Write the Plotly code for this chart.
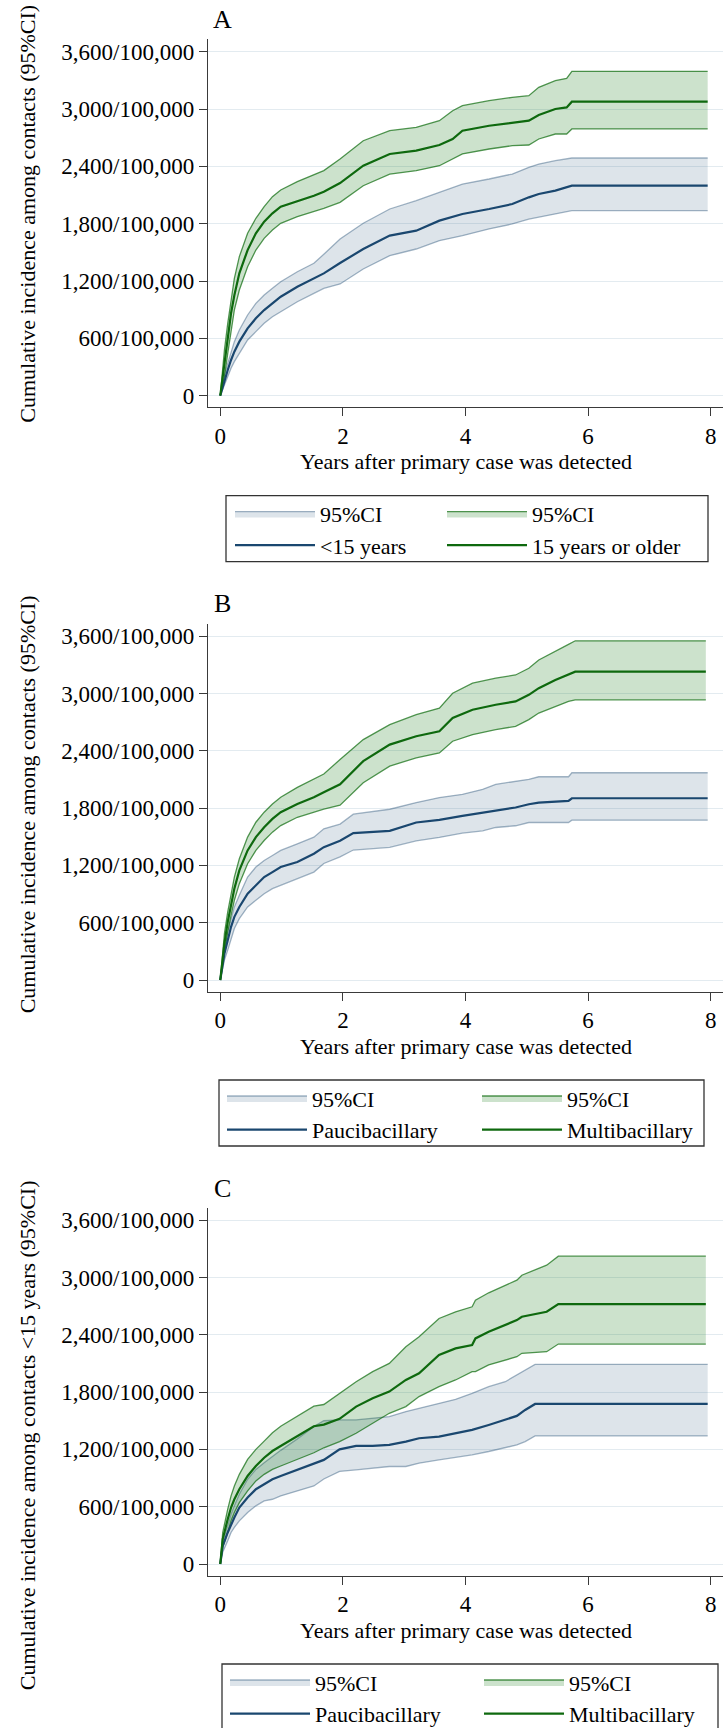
import plotly.graph_objects as go

# ---------------- data ----------------
# Panel A : <15 years (blue) vs 15 years or older (green)
a_blue_t = [0, 0.068, 0.122, 0.176, 0.23, 0.311, 0.446, 0.581, 0.716, 0.851, 0.986, 1.257, 1.527, 1.689,
            1.954, 2.332, 2.764, 3.196, 3.574, 3.95, 4.385, 4.763, 5.033, 5.195, 5.465, 5.735, 7.95]
a_blue = [0, 164, 268, 373, 460, 565, 704, 809, 896, 966, 1035, 1140, 1228, 1280,
          1388, 1535, 1675, 1727, 1832, 1902, 1954, 2006, 2076, 2111, 2146, 2198, 2198]
a_blue_hi = [0, 216, 338, 460, 565, 687, 844, 966, 1053, 1123, 1193, 1297, 1385, 1480,
             1640, 1805, 1954, 2041, 2128, 2215, 2268, 2320, 2390, 2425, 2460, 2488, 2488]
a_blue_lo = [0, 112, 199, 286, 356, 443, 582, 670, 757, 826, 879, 983, 1071, 1123,
             1169, 1326, 1465, 1535, 1622, 1675, 1745, 1797, 1849, 1867, 1902, 1937, 1937]

a_green_t = [0, 0.068, 0.122, 0.176, 0.23, 0.311, 0.446, 0.581, 0.716, 0.851, 0.986, 1.257, 1.527, 1.689,
             1.954, 2.332, 2.764, 3.196, 3.574, 3.79, 3.95, 4.385, 4.763, 5.033, 5.195, 5.465, 5.65, 5.735, 7.95]
a_green = [0, 338, 617, 862, 1050, 1280, 1524, 1700, 1822, 1909, 1978, 2035, 2093, 2135,
           2226, 2407, 2530, 2565, 2624, 2687, 2774, 2826, 2861, 2879, 2938, 3001, 3018, 3078, 3078]
a_green_hi = [0, 477, 757, 1001, 1228, 1455, 1700, 1857, 1978, 2083, 2153, 2241, 2310, 2356,
              2477, 2669, 2774, 2809, 2879, 2983, 3036, 3088, 3123, 3141, 3228, 3298, 3322, 3395, 3395]
a_green_lo = [0, 198, 443, 670, 897, 1106, 1350, 1524, 1647, 1734, 1804, 1874, 1926, 1961,
              2024, 2198, 2320, 2355, 2407, 2477, 2530, 2582, 2617, 2624, 2687, 2739, 2739, 2792, 2792]

# Panel B : Paucibacillary (blue) vs Multibacillary (green)
b_blue_t = [0, 0.068, 0.122, 0.176, 0.23, 0.311, 0.446, 0.581, 0.716, 0.851, 0.986, 1.257, 1.527, 1.689,
            1.954, 2.17, 2.764, 3.196, 3.574, 3.95, 4.28, 4.493, 4.817, 5.033, 5.195, 5.68, 5.735, 7.95]
b_blue = [0, 278, 417, 557, 661, 765, 904, 991, 1078, 1130, 1183, 1235, 1322, 1391,
          1458, 1538, 1562, 1649, 1677, 1719, 1753, 1778, 1806, 1840, 1858, 1875, 1903, 1903]
b_blue_hi = [0, 348, 504, 643, 765, 887, 1078, 1183, 1252, 1304, 1357, 1426, 1496, 1583,
             1632, 1736, 1788, 1858, 1910, 1944, 1997, 2049, 2083, 2101, 2128, 2128, 2170, 2170]
b_blue_lo = [0, 209, 313, 435, 539, 643, 765, 835, 904, 957, 991, 1061, 1130, 1220,
             1290, 1361, 1389, 1458, 1493, 1538, 1562, 1597, 1615, 1649, 1649, 1649, 1674, 1674]

b_green_t = [0, 0.068, 0.122, 0.176, 0.23, 0.311, 0.446, 0.581, 0.716, 0.851, 0.986, 1.257, 1.527, 1.689,
             1.954, 2.332, 2.764, 3.196, 3.574, 3.79, 4.115, 4.493, 4.817, 5.033, 5.195, 5.465, 5.68, 5.79, 7.92]
b_green = [0, 383, 609, 800, 957, 1148, 1357, 1496, 1600, 1687, 1757, 1843, 1913, 1965,
           2049, 2292, 2465, 2552, 2604, 2743, 2830, 2882, 2917, 2986, 3056, 3142, 3194, 3229, 3229]
b_green_hi = [0, 487, 713, 904, 1078, 1270, 1496, 1652, 1757, 1843, 1913, 2017, 2104, 2157,
              2309, 2517, 2674, 2778, 2847, 3003, 3108, 3160, 3194, 3264, 3351, 3438, 3514, 3552, 3552]
b_green_lo = [0, 296, 504, 678, 835, 1009, 1217, 1357, 1461, 1548, 1617, 1704, 1760, 1790,
              1830, 2066, 2240, 2326, 2378, 2500, 2569, 2622, 2656, 2726, 2795, 2865, 2917, 2934, 2934]

# Panel C : contacts <15 years, Paucibacillary (blue) vs Multibacillary (green)
c_blue_t = [0, 0.04, 0.122, 0.176, 0.23, 0.311, 0.446, 0.581, 0.716, 0.851, 0.986, 1.257, 1.527, 1.689,
            1.946, 2.216, 2.486, 2.757, 3.027, 3.243, 3.568, 3.838, 4.108, 4.378, 4.649, 4.838, 4.973, 5.135, 7.95]
c_blue = [0, 191, 330, 417, 487, 591, 696, 783, 835, 887, 922, 990, 1050, 1090,
          1200, 1237, 1237, 1247, 1282, 1317, 1334, 1369, 1404, 1456, 1509, 1551, 1613, 1676, 1676]
c_blue_hi = [0, 243, 400, 522, 609, 730, 887, 990, 1060, 1125, 1190, 1310, 1440, 1500,
             1509, 1509, 1526, 1544, 1596, 1631, 1676, 1725, 1787, 1857, 1909, 1979, 2031, 2091, 2091]
c_blue_lo = [0, 122, 243, 330, 383, 452, 539, 609, 661, 678, 713, 765, 817, 890,
             969, 986, 1003, 1021, 1021, 1056, 1091, 1118, 1143, 1178, 1223, 1247, 1282, 1341, 1341]

c_green_t = [0, 0.04, 0.122, 0.176, 0.23, 0.311, 0.446, 0.581, 0.716, 0.851, 0.986, 1.257, 1.527, 1.689,
             1.946, 2.216, 2.486, 2.757, 3.027, 3.243, 3.568, 3.838, 4.108, 4.162, 4.378, 4.838, 4.919, 5.324, 5.514, 7.92]
c_green = [0, 261, 470, 591, 678, 783, 922, 1026, 1113, 1183, 1235, 1339, 1443, 1460,
           1520, 1648, 1735, 1805, 1927, 1997, 2188, 2258, 2293, 2362, 2432, 2554, 2589, 2641, 2721, 2721]
c_green_hi = [0, 330, 574, 713, 817, 939, 1096, 1200, 1287, 1374, 1443, 1548, 1652, 1670,
              1787, 1909, 2014, 2101, 2275, 2380, 2571, 2641, 2693, 2763, 2840, 2972, 3024, 3129, 3223, 3223]
c_green_lo = [0, 174, 330, 452, 539, 643, 765, 870, 939, 991, 1026, 1096, 1165, 1217,
              1282, 1369, 1474, 1578, 1648, 1753, 1857, 1927, 2014, 2014, 2084, 2171, 2206, 2223, 2303, 2303]

panel_letters = ["A", "B", "C"]
y_titles = ["Cumulative incidence among contacts (95%CI)",
            "Cumulative incidence among contacts (95%CI)",
            "Cumulative incidence among contacts <15 years (95%CI)"]
x_title = "Years after primary case was detected"
blue_names = ["<15 years", "Paucibacillary", "Paucibacillary"]
green_names = ["15 years or older", "Multibacillary", "Multibacillary"]
ci_name = "95%CI"

y_tickvals = [0, 600, 1200, 1800, 2400, 3000, 3600]
y_ticktext = ["0", "600/100,000", "1,200/100,000", "1,800/100,000",
              "2,400/100,000", "3,000/100,000", "3,600/100,000"]
x_tickvals = [0, 2, 4, 6, 8]

panel_data = [
    (a_blue_t, a_blue, a_blue_hi, a_blue_lo, a_green_t, a_green, a_green_hi, a_green_lo),
    (b_blue_t, b_blue, b_blue_hi, b_blue_lo, b_green_t, b_green, b_green_hi, b_green_lo),
    (c_blue_t, c_blue, c_blue_hi, c_blue_lo, c_green_t, c_green, c_green_hi, c_green_lo),
]

# ---------------- layout constants ----------------
W, H = 723, 1728
ML = 208
PW = W - ML
FONT = "Liberation Serif"
Y_RANGE = [-121, 3732]
X_RANGE = [-0.2, 8.2]
PX_PER_UNIT = 57.3 / 600.0

BLUE = "#1a476f"
BLUE_EDGE = "rgba(26,71,111,0.40)"
BLUE_FILL = "rgba(26,71,111,0.15)"
GREEN = "#0e690e"
GREEN_EDGE = "rgba(10,105,10,0.70)"
GREEN_FILL = "rgba(0,110,0,0.20)"
AXIS_COL = "#3a3a3a"
GRID_COL = "#e3ebf0"

zero_px = [395.6, 980.0, 1564.0]          # pixel row of value 0 in each panel
ytitle_px = [214.0, 804.6, 1435.5]        # centre of rotated y titles
legend_cols_px = [(230, 442, 226, 708), (222, 477, 219, 704), (225, 479, 222, 718)]


def py(px):
    return 1 - px / H


def pxx(px):
    return (px - ML) / PW


fig = go.Figure()
annotations = []
shapes = []
layout_extra = {}

for i in range(3):
    bt, bc, bhi, blo, gt, gc, ghi, glo = panel_data[i]
    n = i + 1
    xa = "x" if n == 1 else f"x{n}"
    ya = "y" if n == 1 else f"y{n}"
    leg1 = "legend" if i == 0 else f"legend{2 * i + 1}"
    leg2 = f"legend{2 * i + 2}"

    # CI bands
    fig.add_trace(go.Scatter(x=bt, y=blo, mode="lines", line=dict(color=BLUE_EDGE, width=1.3),
                             showlegend=False, hoverinfo="skip", xaxis=xa, yaxis=ya))
    fig.add_trace(go.Scatter(x=bt, y=bhi, mode="lines", line=dict(color=BLUE_EDGE, width=1.3),
                             fill="tonexty", fillcolor=BLUE_FILL, name=ci_name, legend=leg1,
                             xaxis=xa, yaxis=ya))
    fig.add_trace(go.Scatter(x=gt, y=glo, mode="lines", line=dict(color=GREEN_EDGE, width=1.3),
                             showlegend=False, hoverinfo="skip", xaxis=xa, yaxis=ya))
    fig.add_trace(go.Scatter(x=gt, y=ghi, mode="lines", line=dict(color=GREEN_EDGE, width=1.3),
                             fill="tonexty", fillcolor=GREEN_FILL, name=ci_name, legend=leg2,
                             xaxis=xa, yaxis=ya))
    # point estimates
    fig.add_trace(go.Scatter(x=bt, y=bc, mode="lines", line=dict(color=BLUE, width=2.2),
                             name=blue_names[i], legend=leg1, xaxis=xa, yaxis=ya))
    fig.add_trace(go.Scatter(x=gt, y=gc, mode="lines", line=dict(color=GREEN, width=2.2),
                             name=green_names[i], legend=leg2, xaxis=xa, yaxis=ya))

    z = zero_px[i]
    top_px = z - Y_RANGE[1] * PX_PER_UNIT
    bot_px = z - Y_RANGE[0] * PX_PER_UNIT
    ykey = "yaxis" if n == 1 else f"yaxis{n}"
    xkey = "xaxis" if n == 1 else f"xaxis{n}"
    layout_extra[ykey] = dict(
        domain=[py(bot_px), py(top_px)], range=Y_RANGE, anchor=xa,
        tickvals=y_tickvals, ticktext=y_ticktext,
        showgrid=True, gridcolor=GRID_COL, gridwidth=1.4, zeroline=False,
        showline=True, linecolor=AXIS_COL, linewidth=1.4,
        ticks="outside", ticklen=8, tickwidth=1.4, tickcolor=AXIS_COL,
        tickfont=dict(family=FONT, size=23, color="black"),
    )
    layout_extra[xkey] = dict(
        domain=[0, 1], range=X_RANGE, anchor=ya,
        tickvals=x_tickvals, ticktext=[str(v) for v in x_tickvals],
        showgrid=False, zeroline=False,
        showline=True, linecolor=AXIS_COL, linewidth=1.4,
        ticks="outside", ticklen=8, tickwidth=1.4, tickcolor=AXIS_COL,
        tickfont=dict(family=FONT, size=23, color="black"),
        ticklabeloverflow="allow",
    )

    # panel letter
    annotations.append(dict(text=panel_letters[i], xref="paper", yref="paper",
                            x=pxx(222), y=py(z - 376), xanchor="center", yanchor="middle",
                            showarrow=False, font=dict(family=FONT, size=26, color="black")))
    # y title
    annotations.append(dict(text=y_titles[i], xref="paper", yref="paper", textangle=-90,
                            x=pxx(27.7), y=py(ytitle_px[i]), xanchor="center", yanchor="middle",
                            showarrow=False, font=dict(family=FONT, size=22, color="black")))
    # x title
    annotations.append(dict(text=x_title, xref=xa, yref="paper", x=4, y=py(z + 66),
                            xanchor="center", yanchor="middle", showarrow=False,
                            font=dict(family=FONT, size=22, color="black")))

    # legends (two columns) and their frame
    c1, c2, bx0, bx1 = legend_cols_px[i]
    leg_top = z + 97.2
    for lk, cx in ((leg1, c1), (leg2, c2)):
        layout_extra[lk] = dict(
            x=pxx(cx), y=py(leg_top), xanchor="left", yanchor="top",
            orientation="v", bgcolor="rgba(0,0,0,0)", borderwidth=0,
            itemwidth=80, traceorder="normal",
            font=dict(family=FONT, size=22, color="black"),
        )
    shapes.append(dict(type="rect", xref="paper", yref="paper",
                       x0=pxx(bx0), x1=pxx(bx1), y0=py(z + 166), y1=py(z + 100),
                       line=dict(color="#333333", width=1.3), fillcolor="rgba(0,0,0,0)"))

fig.update_layout(
    width=W, height=H,
    margin=dict(l=ML, r=0, t=0, b=0, autoexpand=False),
    paper_bgcolor="white", plot_bgcolor="white",
    font=dict(family=FONT, size=22, color="black"),
    annotations=annotations, shapes=shapes,
    showlegend=True,
    hovermode=False,
    **layout_extra,
)

# remove the browser's default 8px body margin so the figure sits at the page origin
fig.write_html("out.html",
               config={"displayModeBar": False},
               post_script="document.body.style.margin='0px';document.body.style.overflow='hidden';")
